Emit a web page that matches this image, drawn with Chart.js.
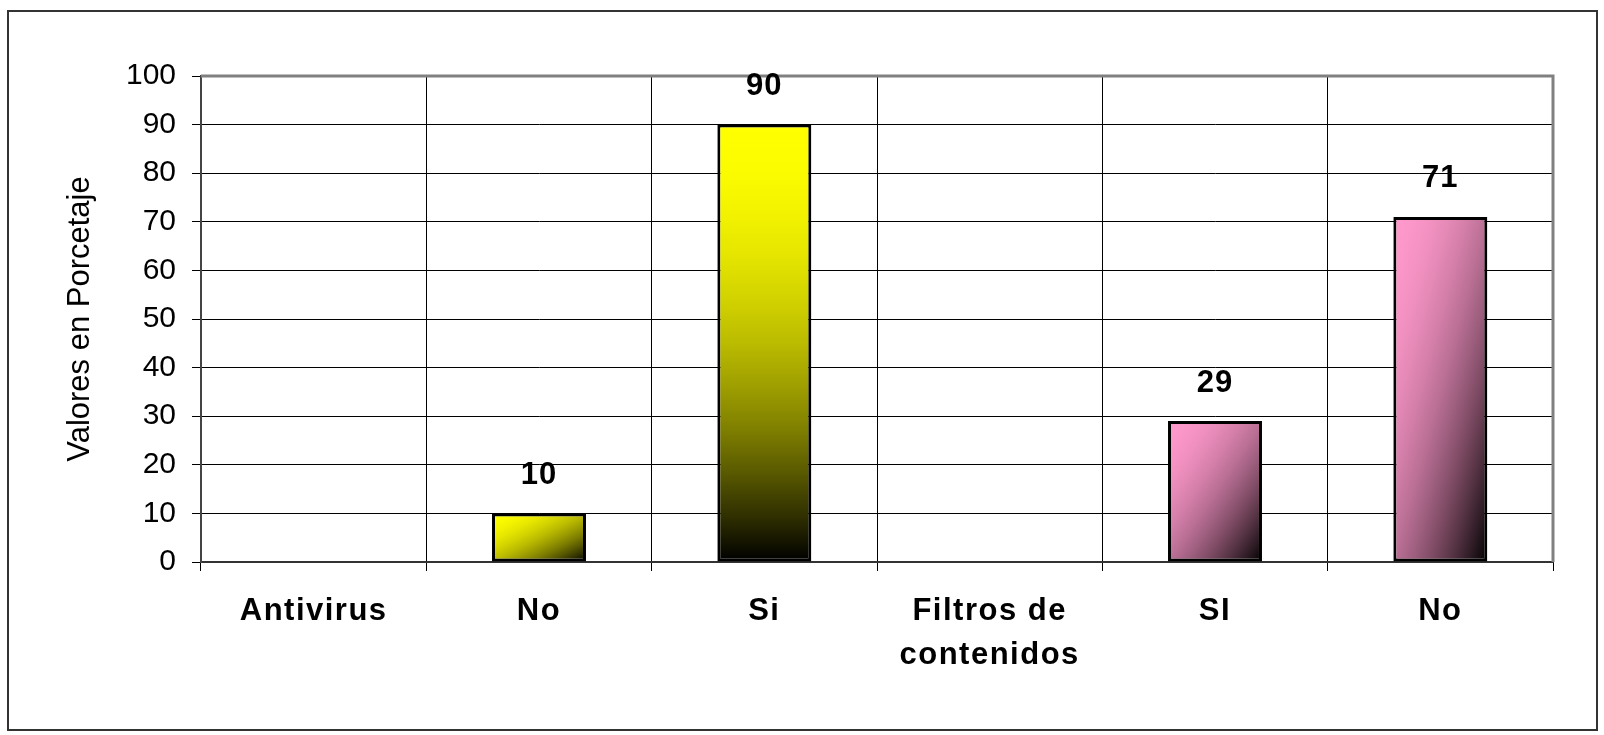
<!DOCTYPE html>
<html>
<head>
<meta charset="utf-8">
<script src="https://cdn.jsdelivr.net/npm/chart.js@4.4.0/dist/chart.umd.min.js"></script>
<style>
html, body { margin: 0; padding: 0; background: #fff; }
canvas { display: block; }
</style>
</head>
<body>
<canvas id="chartSeguridad" width="1604" height="735"></canvas>
<script>
const categorias = ['Antivirus', 'No', 'Si', ['Filtros de', 'contenidos'], 'SI', 'No'];
const porcentajes = [null, 10, 90, null, 29, 71];
const ticksEje = [0, 10, 20, 30, 40, 50, 60, 70, 80, 90, 100];

const fuente = '"Liberation Sans", Arial, sans-serif';

// relleno de cada barra: color claro y tipo de degradado (siempre hacia negro)
const rellenos = [
    null,
    { color: [255, 255, 0], tipo: 'diag' },
    { color: [255, 255, 0], tipo: 'vert' },
    null,
    { color: [255, 153, 204], tipo: 'diag' },
    { color: [255, 153, 204], tipo: 'diag' }
];

// el degradado del original oscurece despacio al principio
function tono(rgb, s) {
    const b = 1 - Math.pow(s, 1.9);
    return 'rgb(' + rgb.map(v => Math.round(v * b)).join(',') + ')';
}

const marco = {
    id: 'marco',
    beforeDraw(chart) {
        const ctx = chart.ctx;
        ctx.save();
        ctx.fillStyle = '#fff';
        ctx.fillRect(0, 0, chart.width, chart.height);
        ctx.strokeStyle = '#333';
        ctx.lineWidth = 2;
        ctx.strokeRect(8, 11, 1589, 719);
        ctx.restore();

        // etiquetas del eje x algo espaciadas, como en el original
        const sx = chart.scales.x;
        if (sx && !sx._espaciado) {
            const orig = sx.drawLabels.bind(sx);
            sx.drawLabels = function (area) {
                const c = this.ctx;
                const prev = c.letterSpacing;
                c.letterSpacing = '1.5px';
                orig(area);
                c.letterSpacing = prev || '0px';
            };
            sx._espaciado = true;
        }
    },
    beforeDatasetsDraw(chart) {
        const ctx = chart.ctx;
        const a = chart.chartArea;
        ctx.save();
        ctx.strokeStyle = '#808080';
        ctx.lineWidth = 3;
        ctx.beginPath();
        ctx.moveTo(a.left, a.top);
        ctx.lineTo(a.right, a.top);
        ctx.lineTo(a.right, a.bottom);
        ctx.stroke();
        ctx.restore();

        chart.getDatasetMeta(0).data.forEach((bar, i) => {
            const r = rellenos[i];
            if (!r || porcentajes[i] == null) return;
            const w = bar.width, h = bar.base - bar.y;
            const x0 = bar.x - w / 2, y0 = bar.y;
            let g;
            if (r.tipo === 'vert') {
                g = ctx.createLinearGradient(0, y0, 0, y0 + h);
            } else {
                const t = 2 / (1 / (w * w) + 1 / (h * h));
                g = ctx.createLinearGradient(x0, y0, x0 + t / w, y0 + t / h);
            }
            for (let k = 0; k <= 10; k++) {
                g.addColorStop(k / 10, tono(r.color, k / 10));
            }
            bar.options.backgroundColor = g;
        });
    },
    afterDatasetsDraw(chart) {
        const ctx = chart.ctx;
        ctx.save();
        ctx.fillStyle = '#000';
        ctx.font = 'bold 31px ' + fuente;
        ctx.letterSpacing = '1px';
        ctx.textAlign = 'center';
        ctx.textBaseline = 'middle';
        chart.getDatasetMeta(0).data.forEach((bar, i) => {
            if (porcentajes[i] == null) return;
            ctx.fillText(String(porcentajes[i]), bar.x, bar.y - 38);
        });
        ctx.restore();
    }
};

const ctxSeguridad = document.getElementById('chartSeguridad').getContext('2d');
const chart1 = new Chart(ctxSeguridad, {
    type: 'bar',
    data: {
        labels: categorias,
        datasets: [{
            label: 'Valores en Porcetaje',
            data: porcentajes,
            // función: así cada barra tiene sus propias opciones
            backgroundColor: c => (rellenos[c.dataIndex] ? tono(rellenos[c.dataIndex].color, 0) : '#fff'),
            borderColor: '#000',
            borderWidth: 3,
            borderSkipped: false,
            categoryPercentage: 1,
            barPercentage: 0.417
        }]
    },
    options: {
        responsive: false,
        devicePixelRatio: 1,
        animation: false,
        layout: { padding: { left: 0, top: 76, right: 51, bottom: 0 } },
        plugins: {
            legend: { display: false },
            tooltip: { enabled: false }
        },
        scales: {
            x: {
                grid: { offset: true, color: '#000', lineWidth: 1, tickLength: 9 },
                border: { color: '#333', width: 2 },
                ticks: {
                    color: '#000',
                    font: { family: fuente, size: 31, weight: 'bold', lineHeight: 1.42 },
                    padding: 18,
                    maxRotation: 0,
                    autoSkip: false
                },
                afterFit: s => { s.height = 173; }
            },
            y: {
                min: 0,
                max: 100,
                afterBuildTicks: s => { s.ticks = ticksEje.map(v => ({ value: v })); },
                grid: { color: '#000', lineWidth: 1, tickLength: 9 },
                border: { color: '#444', width: 2 },
                ticks: {
                    color: '#000',
                    font: { family: fuente, size: 30 },
                    padding: 16
                },
                title: {
                    display: true,
                    text: 'Valores en Porcetaje',
                    color: '#000',
                    font: { family: fuente, size: 31 },
                    padding: { top: 62, bottom: 0 }
                },
                afterFit: s => { s.width = 201; }
            }
        }
    },
    plugins: [marco]
});
</script>
</body>
</html>
